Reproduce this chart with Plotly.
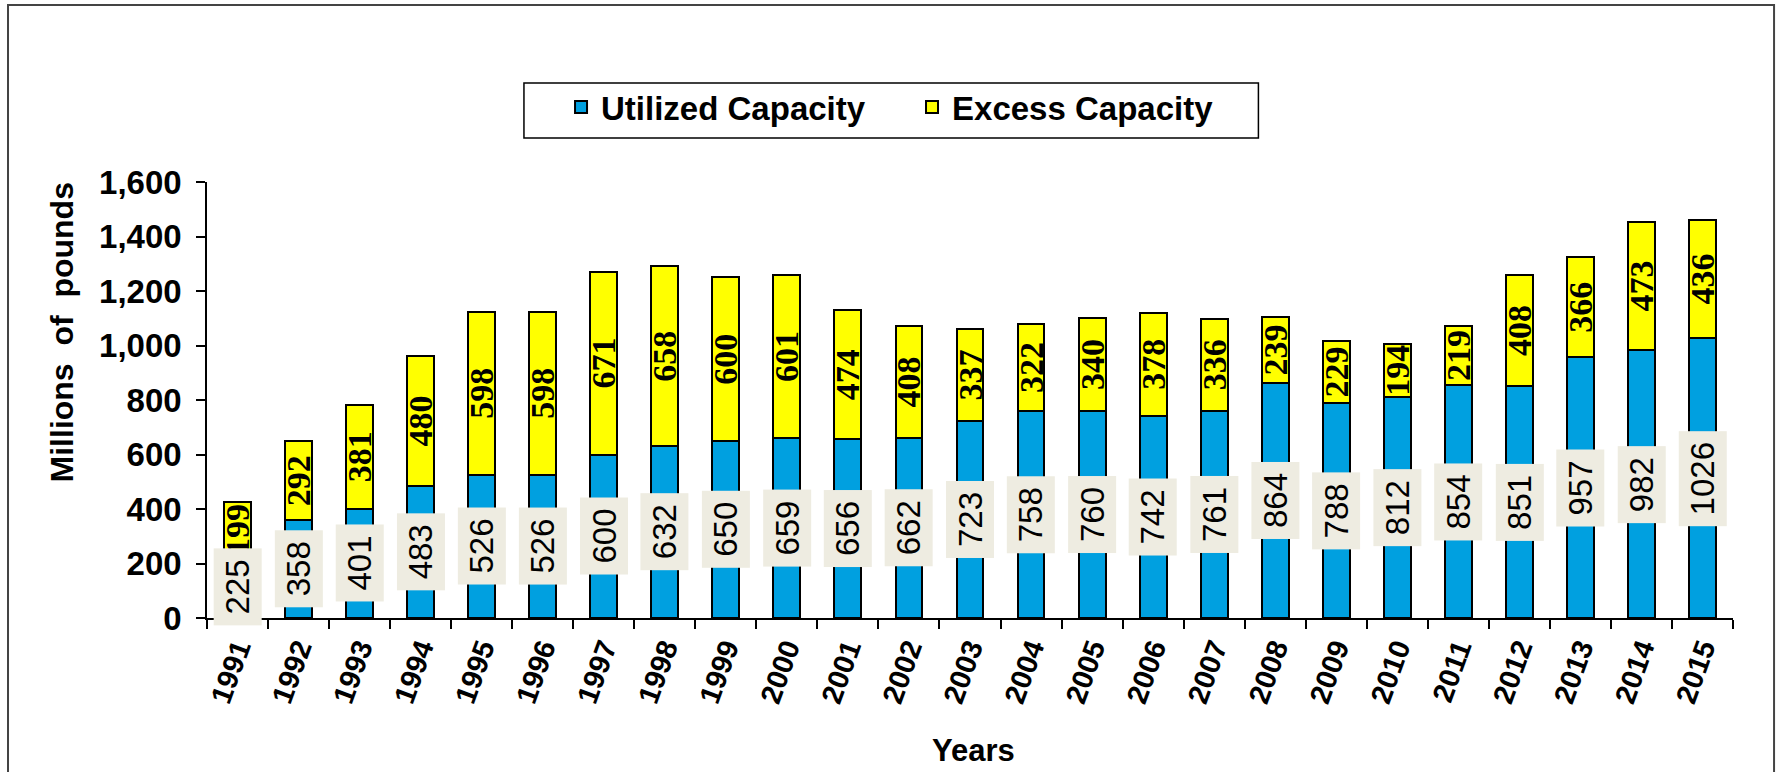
import plotly.graph_objects as go

years = [str(y) for y in range(1991, 2016)]
utilized = [225, 358, 401, 483, 526, 526, 600, 632, 650, 659, 656, 662, 723,
            758, 760, 742, 761, 864, 788, 812, 854, 851, 957, 982, 1026]
excess = [199, 292, 381, 480, 598, 598, 671, 658, 600, 601, 474, 408, 337,
          322, 340, 378, 336, 239, 229, 194, 219, 408, 366, 473, 436]
y_ticks = [0, 200, 400, 600, 800, 1000, 1200, 1400, 1600]

BLUE = "#00A0E0"
YELLOW = "#FFFF00"
BEIGE = "#EEECE1"
SANS = "Arial, Liberation Sans, sans-serif"
SERIF = "Times New Roman, Liberation Serif, serif"

fig = go.Figure()
fig.add_trace(go.Bar(
    x=years, y=utilized, name="Utilized Capacity", legend="legend",
    marker=dict(color=BLUE, line=dict(color="black", width=2)),
))
fig.add_trace(go.Bar(
    x=years, y=excess, name="Excess Capacity", legend="legend2",
    marker=dict(color=YELLOW, line=dict(color="black", width=2)),
    text=[str(v) for v in excess], textposition="inside",
    insidetextanchor="middle", textangle=-90, constraintext="none",
    textfont=dict(family=SERIF, size=34, color="black", weight="bold"),
))

annotations = []
for i, u in enumerate(utilized):
    s = str(u)
    annotations.append(dict(
        x=i, y=u / 2, xref="x", yref="y", text=s, showarrow=False,
        textangle=-90, bgcolor=BEIGE, borderpad=5, width=len(s) * 18 + 12,
        font=dict(family=SANS, size=33, color="black"),
    ))

annotations.append(dict(
    x=-0.095, y=0.655, xref="paper", yref="paper",
    text="<b>Millions  of  pounds</b>", showarrow=False, textangle=-90,
    xanchor="center", yanchor="middle",
    font=dict(family=SANS, size=32, color="black"),
))
annotations.append(dict(
    x=0.502, y=-0.303, xref="paper", yref="paper",
    text="<b>Years</b>", showarrow=False,
    xanchor="center", yanchor="middle",
    font=dict(family=SANS, size=31, color="black"),
))

leg_common = dict(
    orientation="h", yanchor="top", y=1.236, xanchor="left",
    font=dict(family=SANS, size=33, color="black", weight="bold"),
    borderwidth=0, bgcolor="rgba(0,0,0,0)", itemwidth=30,
)

fig.update_layout(
    width=1776, height=772,
    margin=dict(l=207, r=43, t=182, b=154, autoexpand=False),
    paper_bgcolor="white", plot_bgcolor="white",
    barmode="stack", bargap=0.56,
    showlegend=True,
    legend=dict(x=0.232, **leg_common),
    legend2=dict(x=0.462, **leg_common),
    xaxis=dict(
        type="category", range=[-0.5, len(years) - 0.5], automargin=False,
        showline=True, linecolor="black", linewidth=1.5,
        ticks="outside", tickson="boundaries", ticklen=9, tickcolor="black",
        tickwidth=1.5, tickangle=-70, showgrid=False,
        tickfont=dict(family=SANS, size=29, color="black", weight="bold"),
    ),
    yaxis=dict(
        range=[0, 1600], tickvals=y_ticks, tickformat=",d", automargin=False,
        showline=True, linecolor="black", linewidth=1.5,
        ticks="outside", ticklen=9, tickcolor="black", tickwidth=1.5,
        showgrid=False, zeroline=False, ticklabelstandoff=8,
        tickfont=dict(family=SANS, size=33, color="black", weight="bold"),
    ),
    annotations=annotations,
    shapes=[
        dict(type="rect", xref="paper", yref="paper",
             x0=-0.1304, x1=1.0269, y0=-0.40, y1=1.406,
             line=dict(color="#444444", width=2),
             fillcolor="rgba(0,0,0,0)", layer="below"),
        dict(type="rect", xref="paper", yref="paper",
             x0=0.2077, x1=0.689, y0=1.101, y1=1.227,
             line=dict(color="black", width=1.5),
             fillcolor="white", layer="below"),
    ],
)

fig.write_html(
    "out.html",
    config={"displayModeBar": False},
    post_script="document.body.style.margin='0';document.body.style.overflow='hidden';",
)
